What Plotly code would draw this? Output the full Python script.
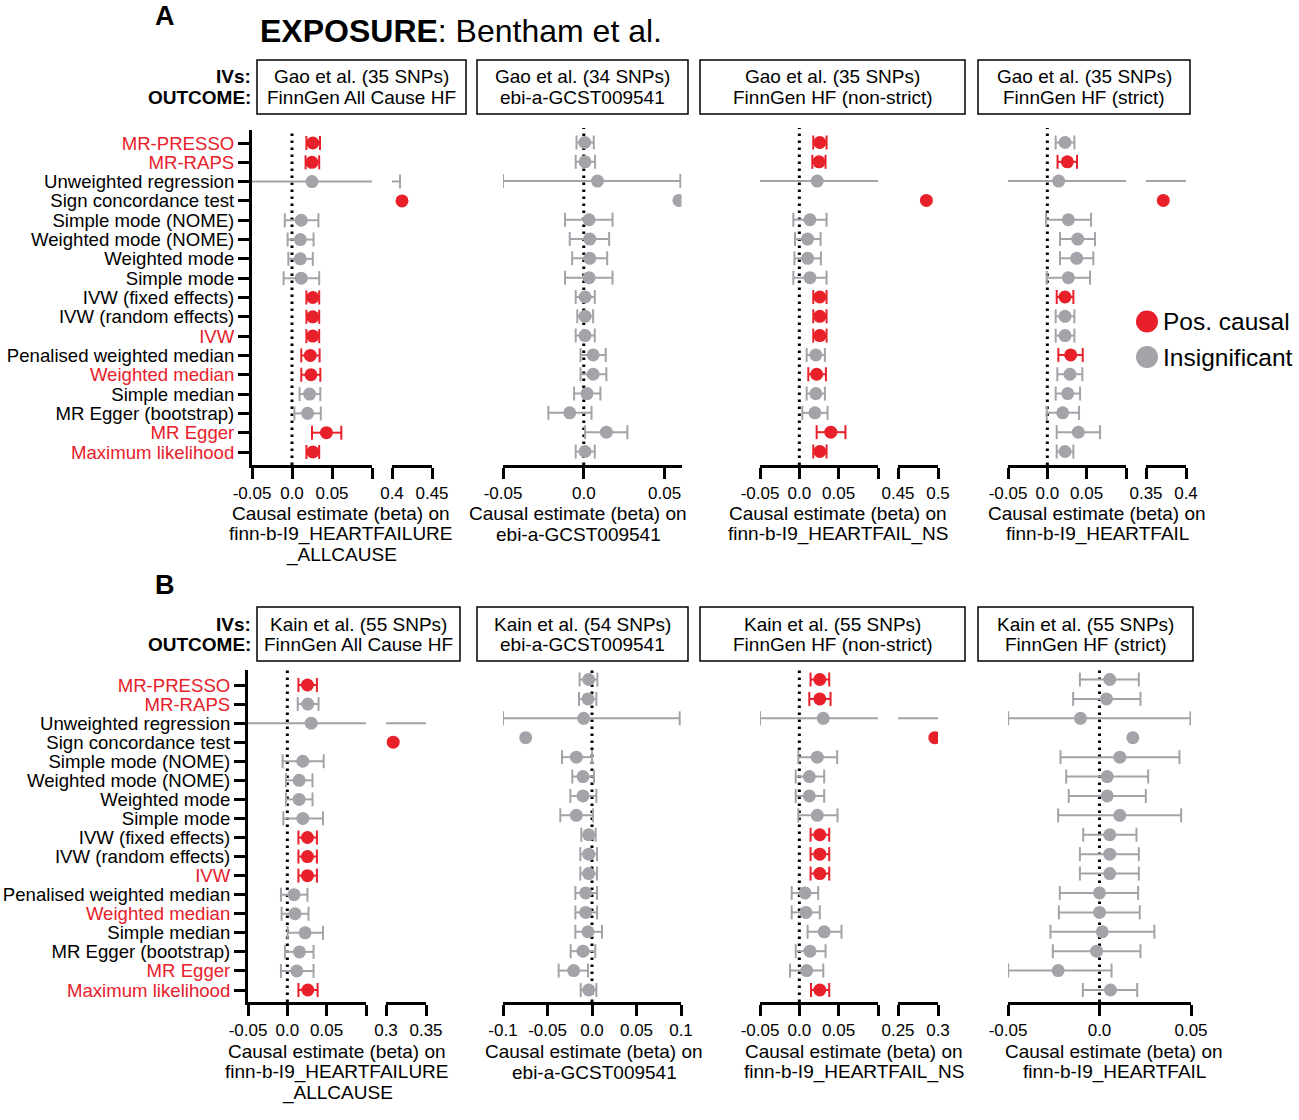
import plotly.graph_objects as go

W, H = 1299, 1120
RED = "#E8202A"
GRAY = "#A3A3A9"
FONT = "Liberation Sans, Arial, Helvetica, sans-serif"
HFONT = "Liberation Sans Narrow, Arial Narrow, Liberation Sans, Arial, sans-serif"

methods = ["MR-PRESSO", "MR-RAPS", "Unweighted regression", "Sign concordance test",
           "Simple mode (NOME)", "Weighted mode (NOME)", "Weighted mode", "Simple mode",
           "IVW (fixed effects)", "IVW (random effects)", "IVW", "Penalised weighted median",
           "Weighted median", "Simple median", "MR Egger (bootstrap)", "MR Egger",
           "Maximum likelihood"]
method_red = [1, 1, 0, 0, 0, 0, 0, 0, 0, 0, 1, 0, 1, 0, 0, 1, 1]

# ---- Panel A (Gao et al. IVs) ----
A1_est = [0.026, 0.025, 0.025, 0.4125, 0.0116, 0.0104, 0.0104, 0.0116, 0.026, 0.026, 0.026, 0.0229, 0.0237, 0.022, 0.0195, 0.043, 0.026]
A1_lo = [0.018, 0.017, -0.06, None, -0.009, -0.0055, -0.0046, -0.0105, 0.018, 0.018, 0.018, 0.0116, 0.0116, 0.0095, 0.003, 0.025, 0.018]
A1_hi = [0.035, 0.034, 0.41, None, 0.033, 0.027, 0.026, 0.034, 0.034, 0.034, 0.034, 0.0345, 0.0354, 0.0354, 0.036, 0.0616, 0.034]
A1_sig = [1, 1, 0, 1, 0, 0, 0, 0, 1, 1, 1, 1, 1, 0, 0, 1, 1]

A2_est = [0.0006, 0.0008, 0.0085, 0.0589, 0.0033, 0.0037, 0.0037, 0.0033, 0.0008, 0.0008, 0.0008, 0.0058, 0.0058, 0.002, -0.0087, 0.014, 0.0008]
A2_lo = [-0.0045, -0.005, -0.05, None, -0.0116, -0.0087, -0.0072, -0.0116, -0.005, -0.004, -0.005, -0.002, -0.002, -0.006, -0.0219, 0.0008, -0.005]
A2_hi = [0.0062, 0.007, 0.0598, None, 0.0178, 0.0157, 0.0145, 0.0178, 0.0068, 0.0058, 0.0068, 0.0136, 0.014, 0.0103, 0.0048, 0.027, 0.0068]
A2_sig = [0] * 17

A3_est = [0.026, 0.025, 0.0228, 0.4855, 0.0135, 0.0105, 0.0105, 0.0135, 0.026, 0.026, 0.026, 0.021, 0.022, 0.021, 0.0198, 0.040, 0.026]
A3_lo = [0.0177, 0.0165, -0.06, None, -0.0076, -0.0055, -0.0063, -0.0076, 0.0177, 0.0177, 0.0177, 0.0093, 0.0114, 0.0093, 0.0038, 0.022, 0.0177]
A3_hi = [0.0346, 0.0333, 0.2, None, 0.0346, 0.027, 0.0274, 0.0346, 0.0346, 0.0346, 0.0346, 0.0325, 0.0338, 0.0325, 0.0359, 0.0586, 0.0346]
A3_sig = [1, 1, 0, 1, 0, 0, 0, 0, 1, 1, 1, 0, 1, 0, 0, 1, 1]

A4_est = [0.0225, 0.0254, 0.0144, 0.3716, 0.0267, 0.0386, 0.0373, 0.0267, 0.0225, 0.0225, 0.0225, 0.0297, 0.0288, 0.0259, 0.0195, 0.0394, 0.0225]
A4_lo = [0.0106, 0.013, -0.06, None, -0.0017, 0.0161, 0.0161, -0.0008, 0.0119, 0.0106, 0.0106, 0.014, 0.0127, 0.0106, -0.0008, 0.0119, 0.0119]
A4_hi = [0.0344, 0.0377, 0.42, None, 0.0556, 0.0606, 0.0585, 0.0543, 0.0331, 0.0344, 0.0344, 0.045, 0.0445, 0.0416, 0.0403, 0.067, 0.0331]
A4_sig = [0, 1, 0, 1, 0, 0, 0, 0, 1, 0, 0, 1, 0, 0, 0, 0, 0]

# ---- Panel B (Kain et al. IVs) ----
B1_est = [0.0256, 0.026, 0.0303, 0.309, 0.0197, 0.015, 0.015, 0.0197, 0.0256, 0.0256, 0.0256, 0.0085, 0.0098, 0.0226, 0.0154, 0.012, 0.026]
B1_lo = [0.0141, 0.0132, -0.06, None, -0.006, -0.0017, -0.0017, -0.0051, 0.0141, 0.0141, 0.0141, -0.0081, -0.0073, 0.0004, -0.003, -0.0081, 0.0141]
B1_hi = [0.0376, 0.0397, 0.36, None, 0.0462, 0.032, 0.032, 0.0453, 0.0376, 0.0376, 0.0376, 0.0256, 0.0269, 0.0453, 0.0333, 0.0333, 0.0385]
B1_sig = [1, 0, 0, 1, 0, 0, 0, 0, 1, 1, 1, 0, 0, 0, 0, 0, 1]

B2_est = [-0.0037, -0.0045, -0.0094, -0.0745, -0.0176, -0.0101, -0.0101, -0.0176, -0.0037, -0.0037, -0.0037, -0.0071, -0.0071, -0.0045, -0.0101, -0.0206, -0.0037]
B2_lo = [-0.0139, -0.0146, -0.1, None, -0.0337, -0.0221, -0.0243, -0.0356, -0.012, -0.0131, -0.0131, -0.0187, -0.0187, -0.0187, -0.024, -0.0375, -0.0127]
B2_hi = [0.006, 0.0049, 0.0985, None, 0.0, 0.0022, 0.0049, 0.0011, 0.0041, 0.0056, 0.0056, 0.0056, 0.0056, 0.0112, 0.0037, -0.0045, 0.0049]
B2_sig = [0] * 17

B3_est = [0.026, 0.026, 0.0304, 0.296, 0.0228, 0.0127, 0.0127, 0.0228, 0.026, 0.026, 0.026, 0.0072, 0.0084, 0.0316, 0.0135, 0.0093, 0.026]
B3_lo = [0.0143, 0.0127, -0.05, None, -0.0013, -0.0046, -0.0046, -0.0013, 0.0143, 0.0143, 0.0143, -0.0097, -0.0097, 0.0105, -0.0046, -0.0118, 0.0148]
B3_hi = [0.038, 0.0397, 0.31, None, 0.0481, 0.0316, 0.0316, 0.0485, 0.038, 0.038, 0.038, 0.024, 0.026, 0.0536, 0.0333, 0.0304, 0.038]
B3_sig = [1, 1, 0, 1, 0, 0, 0, 0, 1, 1, 1, 0, 0, 0, 0, 0, 1]

B4_est = [0.0056, 0.0038, -0.0104, 0.0182, 0.0111, 0.0042, 0.0042, 0.0111, 0.0056, 0.0056, 0.0056, 0.0, 0.0, 0.0015, -0.0016, -0.0226, 0.006]
B4_lo = [-0.0107, -0.0144, -0.0499, None, -0.0213, -0.0182, -0.0168, -0.0226, -0.0089, -0.0107, -0.0107, -0.0217, -0.0222, -0.0268, -0.0255, -0.0499, -0.0091]
B4_hi = [0.0215, 0.0224, 0.0497, None, 0.0437, 0.0266, 0.0253, 0.0446, 0.0202, 0.0215, 0.0215, 0.0211, 0.022, 0.03, 0.0224, 0.0066, 0.0206]
B4_sig = [0] * 17

# tick labels
T_MAIN = [-0.05, 0.0, 0.05, 0.1]
T_MAIN_TXT = ["-0.05", "0.0", "0.05", ""]
T_A2 = [-0.05, 0.0, 0.05]
T_A2_TXT = ["-0.05", "0.0", "0.05"]
T_B2 = [-0.1, -0.05, 0.0, 0.05, 0.1]
T_B2_TXT = ["-0.1", "-0.05", "0.0", "0.05", "0.1"]

A_ivs = ["Gao et al. (35 SNPs)", "Gao et al. (34 SNPs)", "Gao et al. (35 SNPs)", "Gao et al. (35 SNPs)"]
B_ivs = ["Kain et al. (55 SNPs)", "Kain et al. (54 SNPs)", "Kain et al. (55 SNPs)", "Kain et al. (55 SNPs)"]
outcomes = ["FinnGen All Cause HF", "ebi-a-GCST009541", "FinnGen HF (non-strict)", "FinnGen HF (strict)"]
xtitles = [["Causal estimate (beta) on", "finn-b-I9_HEARTFAILURE", "_ALLCAUSE"],
           ["Causal estimate (beta) on", "ebi-a-GCST009541"],
           ["Causal estimate (beta) on", "finn-b-I9_HEARTFAIL_NS"],
           ["Causal estimate (beta) on", "finn-b-I9_HEARTFAIL"]]


def seg(rng, dom, tv, tt):
    return dict(rng=rng, dom=dom, tv=tv, tt=tt)


panels = [
    dict(d=(A1_est, A1_lo, A1_hi, A1_sig), ylab=True, yd=(130, 465), rows=(143, 452), tx=341, ty=513,
         segs=[seg((-0.05, 0.1), (252, 372), T_MAIN, T_MAIN_TXT), seg((0.4, 0.45), (392, 432), [0.4, 0.45], ["0.4", "0.45"])]),
    dict(d=(A2_est, A2_lo, A2_hi, A2_sig), ylab=False, yd=(128, 465), rows=(142.5, 451.5), tx=578, ty=513,
         segs=[seg((-0.05, 0.0605), (503, 681.5), T_A2, T_A2_TXT)]),
    dict(d=(A3_est, A3_lo, A3_hi, A3_sig), ylab=False, yd=(128, 465), rows=(142.5, 451.5), tx=838, ty=513,
         segs=[seg((-0.05, 0.1), (760, 878), T_MAIN, T_MAIN_TXT), seg((0.45, 0.5), (898, 938), [0.45, 0.5], ["0.45", "0.5"])]),
    dict(d=(A4_est, A4_lo, A4_hi, A4_sig), ylab=False, yd=(128, 465), rows=(142.5, 451.5), tx=1097, ty=513,
         segs=[seg((-0.05, 0.1), (1008, 1126), T_MAIN, T_MAIN_TXT), seg((0.35, 0.4), (1146, 1186), [0.35, 0.4], ["0.35", "0.4"])]),
    dict(d=(B1_est, B1_lo, B1_hi, B1_sig), ylab=True, yd=(670, 1002), rows=(685, 990), tx=337, ty=1051,
         segs=[seg((-0.05, 0.1), (248, 366), T_MAIN, T_MAIN_TXT), seg((0.3, 0.35), (386, 426), [0.3, 0.35], ["0.3", "0.35"])]),
    dict(d=(B2_est, B2_lo, B2_hi, B2_sig), ylab=False, yd=(666, 1002), rows=(679.5, 990), tx=594, ty=1051,
         segs=[seg((-0.1, 0.1), (503, 681), T_B2, T_B2_TXT)]),
    dict(d=(B3_est, B3_lo, B3_hi, B3_sig), ylab=False, yd=(666, 1002), rows=(679.5, 990), tx=854, ty=1051,
         segs=[seg((-0.05, 0.1), (760, 878), T_MAIN, T_MAIN_TXT), seg((0.25, 0.3), (898, 938), [0.25, 0.3], ["0.25", "0.3"])]),
    dict(d=(B4_est, B4_lo, B4_hi, B4_sig), ylab=False, yd=(666, 1002), rows=(679.5, 990), tx=1114, ty=1051,
         segs=[seg((-0.05, 0.05), (1008, 1191), T_A2, T_A2_TXT)]),
]


def fx(v):
    return v / W


def fy(v):
    return 1 - v / H


fig = go.Figure()
layout = dict(width=W, height=H, autosize=False,
              margin=dict(l=0, r=0, t=0, b=0, pad=0, autoexpand=False), paper_bgcolor="white",
              plot_bgcolor="rgba(0,0,0,0)", showlegend=False,
              font=dict(family=FONT, size=18, color="black"))
shapes = []
annotations = []

ytxt = [('<span style="color:%s">%s</span>' % (RED, m)) if r else m for m, r in zip(methods, method_red)]

xi = 0
for pi, P in enumerate(panels):
    yid = pi + 1
    yname = "yaxis" if yid == 1 else "yaxis%d" % yid
    yref = "y" if yid == 1 else "y%d" % yid
    first_x = xi + 1
    first_xref = "x" if first_x == 1 else "x%d" % first_x
    top_row, bot_row = P["rows"]
    s = (bot_row - top_row) / 16.0
    T, B = P["yd"]
    yax = dict(domain=[fy(B), fy(T)], range=[(B - top_row) / s, (T - top_row) / s],
               anchor=first_xref, showgrid=False, zeroline=False, fixedrange=True, automargin=False)
    if P["ylab"]:
        yax.update(showline=True, linewidth=3, linecolor="black", ticks="outside", ticklen=11,
                   tickwidth=3, tickcolor="black", tickvals=list(range(17)), ticktext=ytxt,
                   tickfont=dict(size=18.6, color="black", family=FONT))
    else:
        yax.update(visible=False)
    layout[yname] = yax

    est, lo, hi, sig = P["d"]
    xrefs = []
    for sg in P["segs"]:
        xi += 1
        xname = "xaxis" if xi == 1 else "xaxis%d" % xi
        xref = "x" if xi == 1 else "x%d" % xi
        layout[xname] = dict(domain=[fx(sg["dom"][0]), fx(sg["dom"][1])], range=list(sg["rng"]),
                             anchor=yref, showline=True, linewidth=3, linecolor="black",
                             ticks="outside", ticklen=11, tickwidth=3, tickcolor="black",
                             tickvals=sg["tv"], ticktext=sg["tt"], showgrid=False, zeroline=False,
                             tickfont=dict(size=17, color="black", family=FONT), fixedrange=True,
                             automargin=False)
        xrefs.append(xref)

    # dotted null line on the main segment
    shapes.append(dict(type="line", xref=first_xref, yref=yref + " domain", x0=0, x1=0, y0=0, y1=1,
                       line=dict(color="black", width=3, dash="2.5px,4.5px"), layer="below"))

    for xref in xrefs:
        for flag, col in ((0, GRAY), (1, RED)):
            idx = [i for i in range(17) if sig[i] == flag]
            cx, cy, kx, ky, px_, py_ = [], [], [], [], [], []
            for i in idx:
                if lo[i] is not None:
                    cx += [lo[i], hi[i], None]
                    cy += [i, i, None]
                    kx += [lo[i], hi[i]]
                    ky += [i, i]
                px_.append(est[i])
                py_.append(i)
            if not idx:
                continue
            fig.add_trace(go.Scatter(x=cx, y=cy, mode="lines", line=dict(color=col, width=2),
                                     xaxis=xref, yaxis=yref, hoverinfo="skip"))
            fig.add_trace(go.Scatter(x=kx, y=ky, mode="markers",
                                     marker=dict(symbol="line-ns", size=10, color=col,
                                                 line=dict(color=col, width=2)),
                                     xaxis=xref, yaxis=yref, hoverinfo="skip"))
            fig.add_trace(go.Scatter(x=px_, y=py_, mode="markers",
                                     marker=dict(symbol="circle", size=13, color=col),
                                     xaxis=xref, yaxis=yref))

    for li, line_txt in enumerate(xtitles[pi % 4]):
        annotations.append(dict(xref="paper", yref="paper", x=fx(P["tx"]), y=fy(P["ty"] + 21 * li),
                                xanchor="center", yanchor="middle", showarrow=False,
                                text=line_txt, font=dict(size=19, family=FONT)))

# header boxes
box_x = [(257, 466), (477, 688), (700, 965), (978, 1190)]
box_xB = [(257, 460), (477, 688), (700, 965), (978, 1193)]
for (bx, by, ivs) in ((box_x, (60, 114), A_ivs), (box_xB, (607, 661), B_ivs)):
    for k, (x0, x1) in enumerate(bx):
        shapes.append(dict(type="rect", xref="paper", yref="paper", x0=fx(x0), x1=fx(x1),
                           y0=fy(by[1]), y1=fy(by[0]), line=dict(color="black", width=1.5)))
        annotations.append(dict(xref="paper", yref="paper", x=fx((x0 + x1) / 2), y=fy(by[0] + 17),
                                xanchor="center", yanchor="middle", showarrow=False,
                                text=ivs[k], font=dict(size=19, family=HFONT)))
        annotations.append(dict(xref="paper", yref="paper", x=fx((x0 + x1) / 2), y=fy(by[0] + 37),
                                xanchor="center", yanchor="middle", showarrow=False,
                                text=outcomes[k], font=dict(size=19, family=HFONT)))
    annotations.append(dict(xref="paper", yref="paper", x=fx(253), y=fy(by[0] + 17), xanchor="right",
                            yanchor="middle", showarrow=False, text="<b>IVs:</b>",
                            font=dict(size=19, family=HFONT)))
    annotations.append(dict(xref="paper", yref="paper", x=fx(253), y=fy(by[0] + 37), xanchor="right",
                            yanchor="middle", showarrow=False, text="<b>OUTCOME:</b>",
                            font=dict(size=19, family=HFONT)))

# titles and panel letters
annotations.append(dict(xref="paper", yref="paper", x=fx(258), y=fy(31), xanchor="left", yanchor="middle",
                        showarrow=False, text="<b>EXPOSURE</b>: Bentham et al.",
                        font=dict(size=32, family=HFONT)))
annotations.append(dict(xref="paper", yref="paper", x=fx(165), y=fy(16), xanchor="center", yanchor="middle",
                        showarrow=False, text="<b>A</b>", font=dict(size=27, family=HFONT)))
annotations.append(dict(xref="paper", yref="paper", x=fx(165), y=fy(585), xanchor="center", yanchor="middle",
                        showarrow=False, text="<b>B</b>", font=dict(size=27, family=HFONT)))

# legend
for (cy, col, lab) in ((321.5, RED, "Pos. causal"), (357, GRAY, "Insignificant")):
    shapes.append(dict(type="circle", xref="paper", yref="paper", x0=fx(1136), x1=fx(1158),
                       y0=fy(cy + 11), y1=fy(cy - 11), fillcolor=col, line=dict(width=0)))
    annotations.append(dict(xref="paper", yref="paper", x=fx(1161), y=fy(cy), xanchor="left",
                            yanchor="middle", showarrow=False, text=lab, font=dict(size=24.5, family=FONT)))

layout["shapes"] = shapes
layout["annotations"] = annotations
fig.update_layout(**layout)
fig.write_html("out.html", config={"displayModeBar": False},
               post_script="document.body.style.margin='0px';document.body.style.overflow='hidden';")
